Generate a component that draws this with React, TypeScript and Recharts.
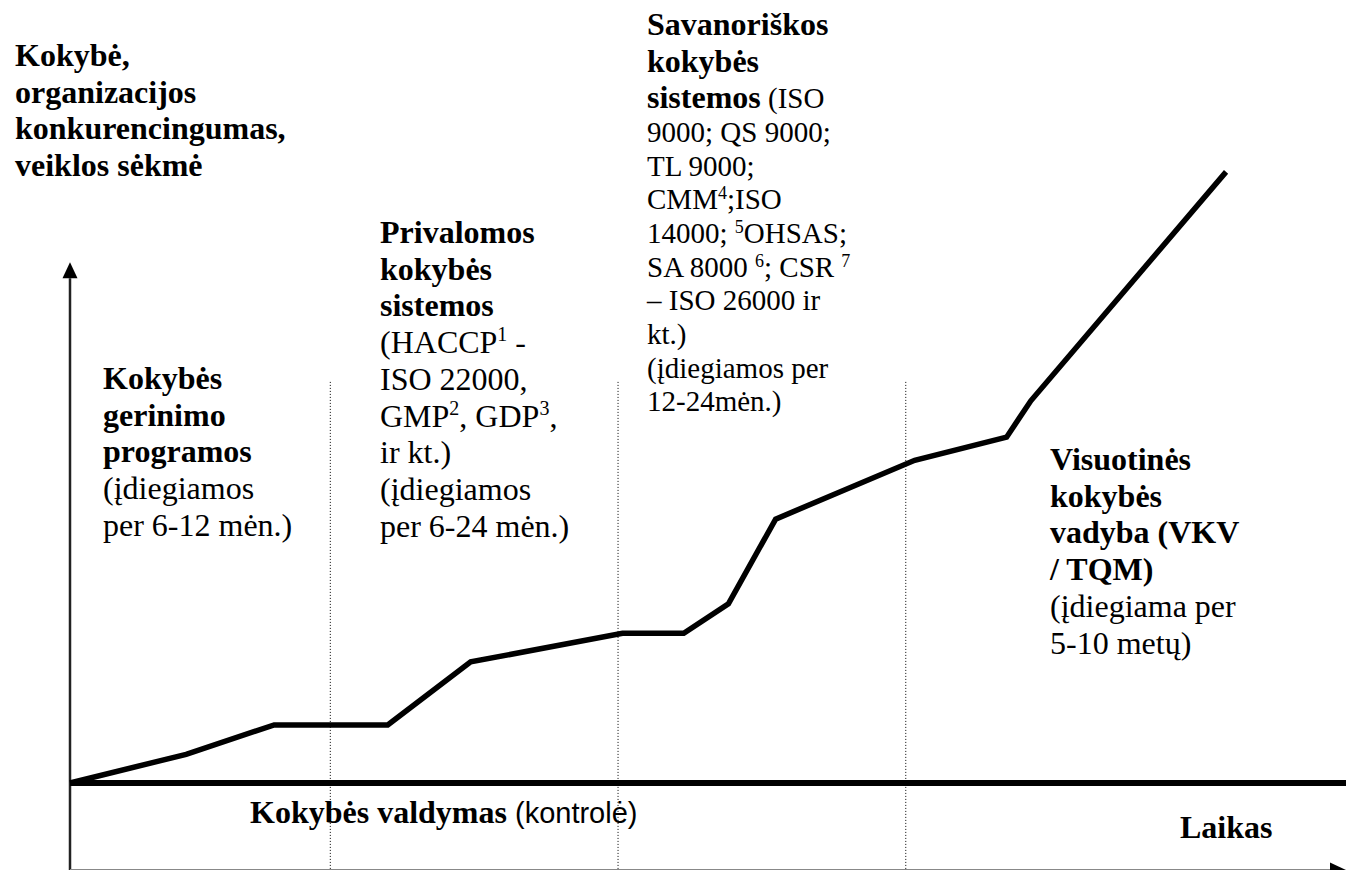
import React from 'react';
import { LineChart, Line, XAxis, YAxis, ReferenceLine, Customized } from 'recharts';

// time (x) and quality (y) in chart units
const timeValues = [0, 9.1, 16, 24.9, 31.4, 43.3, 48.1, 51.6, 55.3, 66.2, 73.4, 75.3, 90.6];
const qualityValues = [0, 4.1, 8.3, 8.3, 17.3, 21.4, 21.4, 25.6, 37.7, 46.1, 49.4, 54.6, 87.3];

// dotted borders between the stages
const stageBoundaries = [20.4, 42.95, 65.5];

const X_DOMAIN: [number, number] = [-5.486, 100];
const Y_DOMAIN: [number, number] = [-12.4286, 111.857];

const SERIF = "'Liberation Serif', 'Times New Roman', serif";
const SANS = "'Liberation Sans', Arial, sans-serif";
const FS = 32;
const LH = 36.7;

type Seg = { t: string; b?: boolean; sup?: boolean };
type Block = { x: number; y: number; lines: Seg[][]; reg?: number };

const B = (t: string): Seg => ({ t, b: true });
const N = (t: string): Seg => ({ t });
const S = (t: string): Seg => ({ t, sup: true });

const yLabelLines: Seg[][] = [[B('Kokybė,')], [B('organizacijos')], [B('konkurencingumas,')], [B('veiklos sėkmė')]];

const stage1Lines: Seg[][] = [
  [B('Kokybės')], [B('gerinimo')], [B('programos')], [N('(įdiegiamos')], [N('per 6-12 mėn.)')],
];

const stage2Lines: Seg[][] = [
  [B('Privalomos')], [B('kokybės')], [B('sistemos')],
  [N('(HACCP'), S('1'), N(' -')],
  [N('ISO 22000,')],
  [N('GMP'), S('2'), N(', GDP'), S('3'), N(',')],
  [N('ir kt.)')],
  [N('(įdiegiamos')],
  [N('per 6-24 mėn.)')],
];

const stage3Lines: Seg[][] = [
  [B('Savanoriškos')], [B('kokybės')], [B('sistemos'), N(' (ISO')],
  [N('9000; QS 9000;')],
  [N('TL 9000;')],
  [N('CMM'), S('4'), N(';ISO')],
  [N('14000; '), S('5'), N('OHSAS;')],
  [N('SA 8000 '), S('6'), N('; CSR '), S('7')],
  [N('– ISO 26000 ir')],
  [N('kt.)')],
  [N('(įdiegiamos per')],
  [N('12-24mėn.)')],
];

const stage4Lines: Seg[][] = [
  [B('Visuotinės')], [B('kokybės')], [B('vadyba (VKV')], [B('/ TQM)')],
  [N('(įdiegiama per')], [N('5-10 metų)')],
];

const blocks: Block[] = [
  { x: 15, y: 66, lines: yLabelLines },
  { x: 103, y: 389, lines: stage1Lines },
  { x: 380, y: 243, lines: stage2Lines },
  { x: 647, y: 35, lines: stage3Lines, reg: 29 },
  { x: 1050, y: 470, lines: stage4Lines },
];

function TextLine({ x, y, segs, reg }: { x: number; y: number; segs: Seg[]; reg: number }) {
  let shifted = false;
  const supSize = Math.round(reg * 0.62);
  const lift = Math.round(reg * 0.36);
  return (
    <text x={x} y={y} fontFamily={SERIF} fontSize={FS} fill="#000">
      {segs.map((s, i) => {
        let dy = 0;
        if (s.sup && !shifted) { dy = -lift; shifted = true; }
        else if (!s.sup && shifted) { dy = lift; shifted = false; }
        return (
          <tspan
            key={i}
            dy={dy || undefined}
            fontWeight={s.b ? 'bold' : 'normal'}
            fontSize={s.sup ? supSize : s.b ? FS : reg}
          >
            {s.t}
          </tspan>
        );
      })}
    </text>
  );
}

function Annotations() {
  const out: React.ReactNode[] = [];
  blocks.forEach((bl, bi) => {
    const reg = bl.reg ?? FS;
    let y = bl.y;
    bl.lines.forEach((segs, li) => {
      if (li > 0) {
        const hasBold = segs.some((s) => s.b);
        y += !hasBold && reg < FS ? reg * 1.16 : LH;
      }
      out.push(<TextLine key={`${bi}-${li}`} x={bl.x} y={y} segs={segs} reg={reg} />);
    });
  });
  return (
    <g>
      {out}
      <text x={250} y={823} fontSize={FS} fill="#000">
        <tspan fontFamily={SERIF} fontWeight="bold">Kokybės valdymas</tspan>
        <tspan fontFamily={SANS} fontSize={29}> (kontrolė)</tspan>
      </text>
      <text x={1180} y={838} fontFamily={SERIF} fontSize={FS} fontWeight="bold" fill="#000">Laikas</text>
    </g>
  );
}

function ArrowLine(props: any) {
  const { x1, y1, x2, y2, stroke, strokeWidth } = props;
  const dx = x2 - x1;
  const dy = y2 - y1;
  const len = Math.hypot(dx, dy) || 1;
  const ux = dx / len;
  const uy = dy / len;
  const L = 16;
  const W = 7.5;
  const bx = x2 - ux * L;
  const by = y2 - uy * L;
  const pts = `${x2},${y2} ${bx - uy * W},${by + ux * W} ${bx + uy * W},${by - ux * W}`;
  return (
    <g>
      <line x1={x1} y1={y1} x2={bx} y2={by} stroke={stroke} strokeWidth={strokeWidth} />
      <polygon points={pts} fill="#000" />
    </g>
  );
}

export default function App() {
  const data = timeValues.map((t, i) => ({ t, q: qualityValues[i] }));
  return (
    <div style={{ position: 'absolute', left: 0, top: 0, width: 1346, height: 870, background: '#fff' }}>
      <LineChart width={1346} height={870} data={data} margin={{ top: 0, right: 0, bottom: 0, left: 0 }}>
        <XAxis dataKey="t" type="number" domain={X_DOMAIN} allowDataOverflow hide />
        <YAxis type="number" domain={Y_DOMAIN} allowDataOverflow hide />
        {stageBoundaries.map((x) => (
          <ReferenceLine
            key={x}
            segment={[{ x, y: 57.3 }, { x, y: Y_DOMAIN[0] }]}
            stroke="#000"
            strokeWidth={1}
            strokeDasharray="1 2"
          />
        ))}
        {/* vertical axis with arrow */}
        <ReferenceLine
          segment={[{ x: 0, y: Y_DOMAIN[0] }, { x: 0, y: 74.4 }]}
          stroke="#222"
          strokeWidth={2.5}
          shape={ArrowLine}
        />
        {/* time axis with arrow, at the very bottom */}
        <ReferenceLine
          segment={[{ x: 0, y: Y_DOMAIN[0] }, { x: 100, y: Y_DOMAIN[0] }]}
          stroke="#888"
          strokeWidth={2}
          shape={ArrowLine}
        />
        {/* quality control baseline */}
        <ReferenceLine segment={[{ x: 0, y: 0 }, { x: 100, y: 0 }]} stroke="#000" strokeWidth={6} />
        <Line
          dataKey="q"
          type="linear"
          stroke="#000"
          strokeWidth={5.5}
          dot={false}
          activeDot={false}
          isAnimationActive={false}
        />
        <Customized component={Annotations} />
      </LineChart>
    </div>
  );
}
